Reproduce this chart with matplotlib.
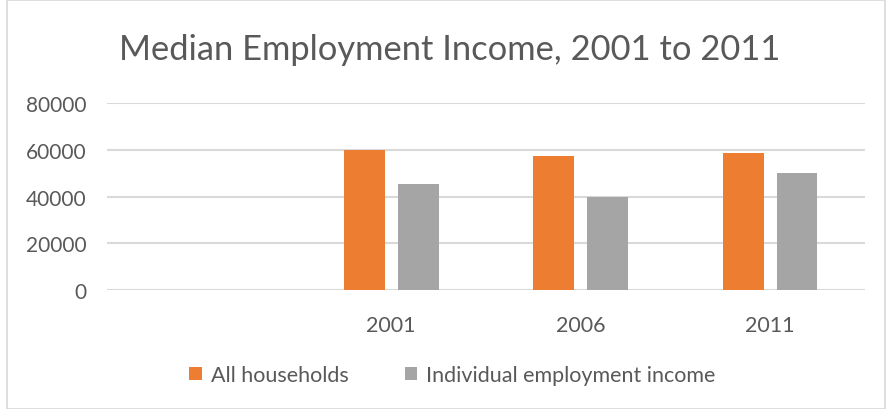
import numpy as np
import matplotlib
matplotlib.use("Agg")
import matplotlib.pyplot as plt
from matplotlib.patches import Rectangle

# data
categories = ["", "2001", "2006", "2011"]
all_households = [np.nan, 60000, 57200, 58700]
individual_income = [np.nan, 45500, 40000, 49900]
series_names = ["All households", "Individual employment income"]
yticks = [0, 20000, 40000, 60000, 80000]

orange = "#ED7D31"
grey = "#A5A5A5"
text_col = "#595959"

plt.rcParams["font.family"] = ["Lato", "DejaVu Sans"]

fig = plt.figure(figsize=(8.87, 4.10), dpi=100)
fig.patches.append(Rectangle((0.008, 0.0), 0.99, 0.998, transform=fig.transFigure,
                             fill=False, edgecolor="#D9D9D9", linewidth=1.2))

ax = fig.add_axes([0.1206, 0.2902, 0.8544, 0.4561])
x = np.arange(len(categories))
w = 0.216
off = 0.142
ax.bar(x - off, all_households, w, color=orange, label=series_names[0], zorder=3)
ax.bar(x + off, individual_income, w, color=grey, label=series_names[1], zorder=3)

ax.set_xlim(-0.5, len(categories) - 0.5)
ax.set_ylim(0, 80000)
ax.set_yticks(yticks)
ax.set_yticklabels([str(v) for v in yticks], fontsize=15, color=text_col)
ax.set_xticks(x)
ax.set_xticklabels(categories, fontsize=15.5, color=text_col)
ax.tick_params(axis="both", length=0)
ax.tick_params(axis="y", pad=15)
ax.tick_params(axis="x", pad=18)
ax.grid(axis="y", color="#D9D9D9", linewidth=1.5, zorder=0)
for s in ax.spines.values():
    s.set_visible(False)

fig.text(0.507, 0.878, "Median Employment Income, 2001 to 2011", ha="center",
         va="center", fontsize=24.8, color=text_col)

fig.legend(loc="center", bbox_to_anchor=(0.51, 0.083), ncol=2, frameon=False,
           fontsize=15.5, labelcolor=text_col, handlelength=0.6, handleheight=0.6,
           handletextpad=0.4, columnspacing=2.6)

fig.savefig("out.png", dpi=100)
